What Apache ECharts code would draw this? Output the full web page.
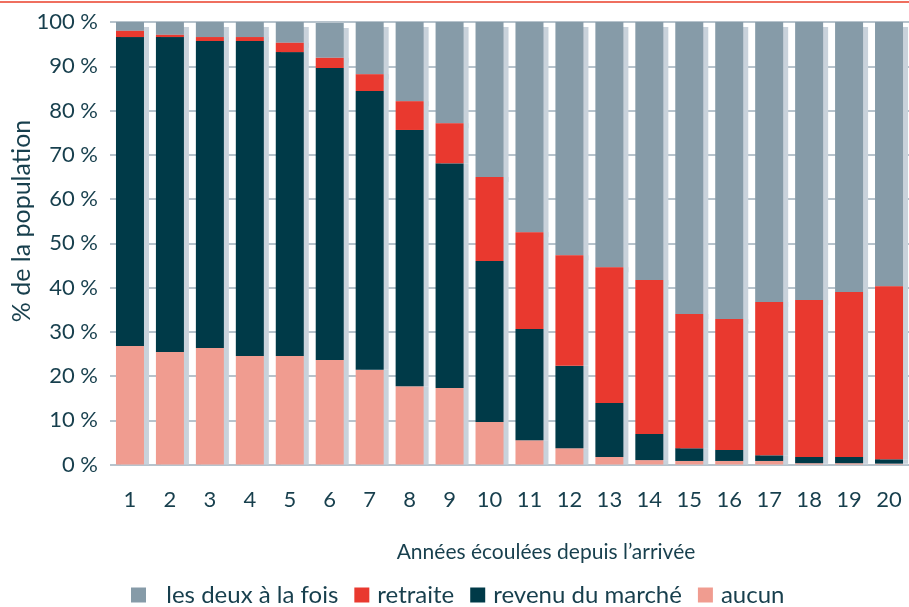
<!DOCTYPE html>
<html>
<head>
<meta charset="utf-8">
<script src="https://cdn.jsdelivr.net/npm/echarts@6/dist/echarts.min.js"></script>
<style>
  html, body { margin: 0; padding: 0; background: #fff; }
  #chart { width: 909px; height: 607px; }
</style>
</head>
<body>
<div id="chart"></div>
<script>
var annees = ['1','2','3','4','5','6','7','8','9','10','11','12','13','14','15','16','17','18','19','20'];

var aucun = [26.8, 25.4, 26.3, 24.5, 24.5, 23.6, 21.4, 17.7, 17.3, 9.6, 5.5, 3.7, 1.7, 1.0, 0.8, 0.8, 0.8, 0.3, 0.3, 0.2];
var marche = [69.8, 71.2, 69.4, 71.2, 68.7, 66.0, 63.0, 57.9, 50.8, 36.4, 25.1, 18.6, 12.2, 5.9, 2.9, 2.5, 1.3, 1.4, 1.4, 1.0];
var retraite = [1.4, 0.5, 0.9, 0.9, 2.1, 2.3, 3.8, 6.5, 9.0, 19.0, 21.9, 25.0, 30.7, 34.8, 30.3, 29.6, 34.6, 35.5, 37.3, 39.1];
var lesDeux = [2.0, 2.9, 3.4, 3.4, 4.7, 7.9, 11.8, 17.9, 22.9, 35.0, 47.5, 52.7, 55.4, 58.3, 66.0, 67.1, 63.3, 62.8, 61.0, 59.7];

var txt = '#173f4d';
var fonte = 'Lato';
var ombre = '#c9d2db';

function serie(nom, data, couleur, z, dy) {
  return {
    name: nom,
    type: 'bar',
    stack: 'total',
    data: data,
    barWidth: 28,
    z: z,
    itemStyle: {
      color: couleur,
      shadowColor: ombre,
      shadowBlur: 0,
      shadowOffsetX: 5,
      shadowOffsetY: dy
    }
  };
}

var chart = echarts.init(document.getElementById('chart'));
chart.setOption({
  animation: false,
  textStyle: { fontFamily: fonte, color: txt },
  grid: { left: 110, right: -9, top: 22, bottom: 142.5 },
  xAxis: {
    type: 'category',
    data: annees,
    axisLine: { show: false },
    axisTick: { show: false },
    axisLabel: { color: txt, fontSize: 22, fontFamily: fonte, margin: 24 }
  },
  yAxis: {
    type: 'value',
    min: 0,
    max: 100,
    interval: 10,
    axisLine: { show: false },
    axisTick: { show: false },
    splitLine: { lineStyle: { color: '#b7c3cc', width: 2 } },
    axisLabel: { color: txt, fontSize: 22, fontFamily: fonte, margin: 12, formatter: '{value} %' }
  },
  legend: {
    data: ['les deux à la fois', 'retraite', 'revenu du marché', 'aucun'],
    left: 126,
    top: 578,
    itemWidth: 15,
    itemHeight: 15,
    itemGap: 16,
    icon: 'rect',
    textStyle: { color: txt, fontSize: 24, fontFamily: fonte, padding: [0, 0, 0, 3] },
    formatter: function (n) { return n === 'les deux à la fois' ? '  ' + n : n; }
  },
  graphic: [
    { type: 'line', shape: { x1: 0, y1: 2, x2: 909, y2: 2 }, style: { stroke: '#ef6f5f', lineWidth: 2 } },
    { type: 'text', x: 22, y: 221, rotation: Math.PI / 2,
      style: { text: '% de la population', fill: txt, font: '25px ' + fonte, textAlign: 'center', textVerticalAlign: 'middle' } },
    { type: 'text', x: 546, y: 552,
      style: { text: 'Années écoulées depuis l’arrivée', fill: txt, font: '21px ' + fonte, textAlign: 'center', textVerticalAlign: 'middle' } }
  ],
  series: [
    serie('aucun', aucun, '#f09c90', 3, 0),
    serie('revenu du marché', marche, '#003a48', 3, 0),
    serie('retraite', retraite, '#e9392f', 3, 0),
    serie('les deux à la fois', lesDeux, '#869ba8', 2, 5)
  ]
});
</script>
</body>
</html>
